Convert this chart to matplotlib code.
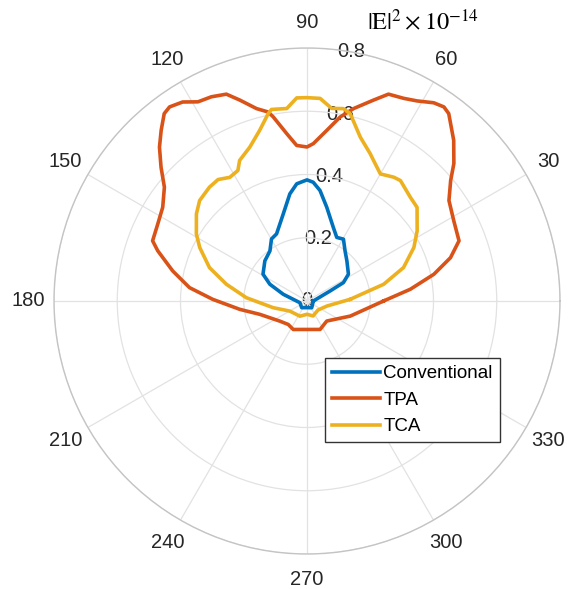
import numpy as np
import matplotlib
matplotlib.use("Agg")
import matplotlib.pyplot as plt

# angles in degrees, radius in units of 1e-14
conv_theta = [0, 23.5, 26.8, 32.9, 45.2, 52.8, 59.5, 64.9, 70.3, 78.1, 83.3, 87.0, 90,
              95.0, 99.1, 105.3, 114.4, 119.8, 126.5, 136.4, 148.6, 155.7, 164.2,
              193.6, 231.6, 270, 305]
conv_r = [0.020, 0.080, 0.129, 0.156, 0.179, 0.199, 0.227, 0.222, 0.247, 0.303, 0.352, 0.376, 0.383,
          0.372, 0.343, 0.285, 0.233, 0.226, 0.197, 0.184, 0.163, 0.129, 0.078,
          0.023, 0.027, 0.021, 0.026]

tpa_theta = [0, 6.5, 11.9, 16.8, 21.6, 28.7, 35.3, 40.0, 43.1, 47.6, 52.9, 54.8, 57.4, 61.2,
             64.5, 68.5, 71.7, 76.4, 79.8, 83.4, 87.7, 90,
             93.8, 96.9, 100.4, 101.6, 104.7, 108.5, 111.3, 115.1, 118.7, 122.0, 125.3, 127.3,
             130.5, 133.8, 137.5, 141.4, 147.0, 152.7, 158.7, 161.4, 167.4, 173.5, 179,
             187.1, 195.8, 216.5, 231.3, 244.2, 270, 294.7, 314.6, 340.8]
tpa_r = [0.242, 0.329, 0.410, 0.474, 0.517, 0.529, 0.550, 0.593, 0.636, 0.688, 0.743, 0.751, 0.744, 0.722,
         0.710, 0.703, 0.669, 0.626, 0.591, 0.543, 0.498, 0.487,
         0.493, 0.533, 0.592, 0.610, 0.629, 0.670, 0.702, 0.713, 0.718, 0.742, 0.752, 0.745,
         0.710, 0.674, 0.626, 0.577, 0.544, 0.531, 0.524, 0.498, 0.435, 0.374, 0.298,
         0.214, 0.155, 0.107, 0.095, 0.100, 0.090, 0.099, 0.089, 0.145]

tca_theta = [2.3, 12.3, 19.1, 26.6, 32.5, 40.4, 45.1, 52.2, 55.0, 60.0, 64.7, 66.8, 72.0, 77.0,
             79.3, 82.7, 86.3, 90,
             92.9, 96.0, 100.5, 101.7, 105.5, 110.4, 115.6, 117.9, 122.0, 126.2, 130.6, 136.9,
             141.8, 148.8, 153.5, 161.1, 168.3, 176.9, 191.2, 210.5, 245, 270, 292, 320.7, 345.8]
tca_r = [0.137, 0.248, 0.323, 0.378, 0.413, 0.457, 0.463, 0.482, 0.478, 0.464, 0.492, 0.507, 0.545, 0.608,
         0.619, 0.614, 0.642, 0.643,
         0.643, 0.612, 0.616, 0.605, 0.560, 0.519, 0.493, 0.467, 0.461, 0.476, 0.474, 0.465,
         0.445, 0.409, 0.379, 0.326, 0.260, 0.192, 0.109, 0.063, 0.053, 0.042, 0.051, 0.045, 0.065]

series = [("Conventional", conv_theta, conv_r, "#0072BD"),
          ("TPA", tpa_theta, tpa_r, "#D95319"),
          ("TCA", tca_theta, tca_r, "#EDB120")]

r_ticks = [0, 0.2, 0.4, 0.6, 0.8]

fig = plt.figure(figsize=(5.77, 5.89), dpi=100)
ax = fig.add_axes([54 / 577, 35 / 589, 506 / 577, 506 / 589], projection="polar")

for name, th, r, col in series:
    th = np.deg2rad(th + th[:1])
    r = r + r[:1]
    ax.plot(th, r, color=col, lw=2.6, label=name, zorder=3)

ax.set_ylim(0, 0.8)
ax.set_yticks(r_ticks)
ax.set_yticklabels([])
ax.set_thetagrids(range(0, 360, 30), [str(a) for a in range(0, 360, 30)],
                  fontsize=14.5, color="#262626", family="Liberation Sans")
ax.tick_params(axis="x", pad=8)
ax.grid(color="#e2e2e2", lw=0.9)
ax.spines["polar"].set_color("#c4c4c4")
ax.spines["polar"].set_linewidth(1.0)

for v in r_ticks:
    ax.text(np.deg2rad(80), v, "%g" % v, ha="center", va="center", fontsize=14.5,
            color="#262626", family="Liberation Sans", zorder=1)

fig.text(423 / 577, 1 - 22 / 589, r"$|\mathrm{E}|^2\times10^{-14}$", ha="center", va="center",
         fontsize=17.5, math_fontfamily="stix")

leg = fig.legend(loc="upper left", bbox_to_anchor=(325 / 577, 1 - 358 / 589), borderaxespad=0,
                 prop={"family": "Liberation Sans", "size": 13.5}, handlelength=2.56,
                 labelspacing=0.5, handletextpad=0.18, borderpad=0.37, fancybox=False,
                 framealpha=1)
leg.get_frame().set_edgecolor("#333333")
leg.get_frame().set_linewidth(1.0)

fig.savefig("out.png", dpi=100)
